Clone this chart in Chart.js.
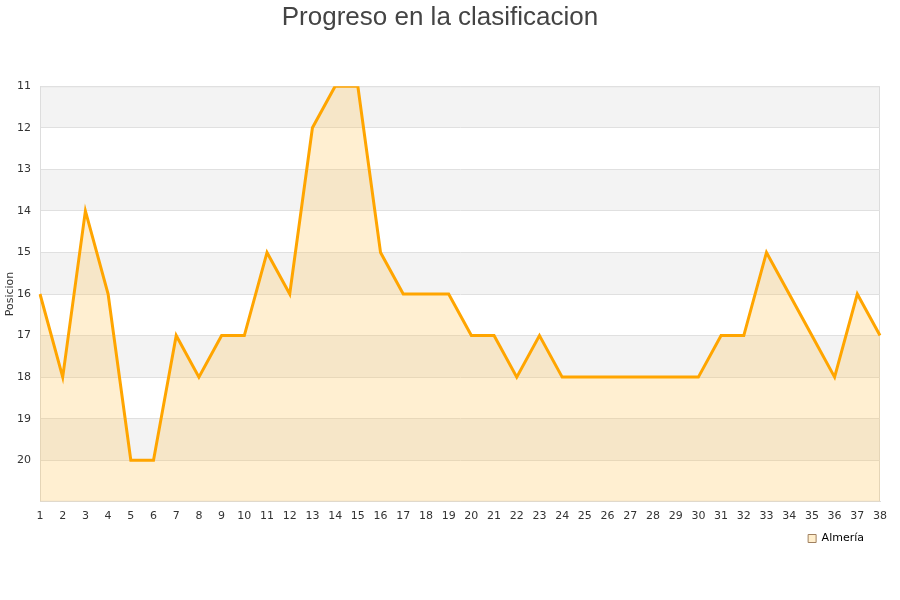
<!DOCTYPE html>
<html>
<head>
<meta charset="utf-8">
<script src="https://cdn.jsdelivr.net/npm/chart.js@4"></script>
<style>
  body { margin: 0; background: #fff; }
</style>
</head>
<body>
<canvas id="chart" width="900" height="600"></canvas>
<script>
const jornadas = ["1","2","3","4","5","6","7","8","9","10","11","12","13","14","15","16","17","18","19","20",
  "21","22","23","24","25","26","27","28","29","30","31","32","33","34","35","36","37","38"];
const posiciones = [16, 18, 14, 16, 20, 20, 17, 18, 17, 17, 15, 16, 12, 11, 11, 15, 16, 16, 16, 17,
  17, 18, 17, 18, 18, 18, 18, 18, 18, 18, 17, 17, 15, 16, 17, 18, 16, 17];
const equipo = "Almería";

// alternating grey bands behind the plot + frame around it
const bands = {
  id: "bands",
  beforeDraw(chart) {
    const { ctx, chartArea, scales } = chart;
    const y = scales.y;
    ctx.save();
    for (let v = y.min; v < y.max; v++) {
      if ((v - y.min) % 2 === 0) {
        const top = y.getPixelForValue(v);
        const bot = y.getPixelForValue(v + 1);
        ctx.fillStyle = "#f3f3f3";
        ctx.fillRect(chartArea.left, top, chartArea.right - chartArea.left, bot - top);
      }
    }
    ctx.strokeStyle = "#dcdcdc";
    ctx.lineWidth = 1;
    ctx.strokeRect(chartArea.left + 0.5, chartArea.top + 0.5,
      chartArea.right - chartArea.left - 1, chartArea.bottom - chartArea.top - 1);
    ctx.restore();
  },
  afterLayout(chart) {
    // legend sits a bit left of the plot's right edge
    chart.legend.right -= 14;
  }
};

new Chart(document.getElementById("chart"), {
  type: "line",
  data: {
    labels: jornadas,
    datasets: [{
      label: equipo,
      data: posiciones,
      borderColor: "#ffa500",
      backgroundColor: "rgba(255, 190, 70, 0.25)",
      fill: { value: 21 },
      borderWidth: 3,
      pointRadius: 0,
      tension: 0
    }]
  },
  plugins: [bands],
  options: {
    responsive: false,
    animation: false,
    layout: { padding: { left: 0, right: 20, top: 0, bottom: 46 } },
    plugins: {
      title: {
        display: true,
        text: "Progreso en la clasificacion",
        color: "#444",
        font: { family: "Liberation Sans", size: 26, weight: "normal" },
        padding: { top: 2, bottom: 53 }
      },
      legend: {
        position: "bottom",
        align: "end",
        labels: {
          boxWidth: 8,
          boxHeight: 8,
          padding: 2,
          color: "#000",
          font: { family: "DejaVu Sans", size: 11 },
          generateLabels: () => [{
            text: equipo,
            fillStyle: "#ffeecc",
            strokeStyle: "#a08060",
            lineWidth: 1
          }]
        }
      },
      tooltip: { enabled: false }
    },
    scales: {
      x: {
        offset: false,
        grid: { display: false, drawTicks: false },
        border: { color: "#ddd" },
        ticks: { color: "#333", font: { family: "DejaVu Sans", size: 11 }, maxRotation: 0, autoSkip: false, padding: 8 }
      },
      y: {
        reverse: true,
        min: 11,
        max: 21,
        afterFit: scale => { scale.width = 40; },
        grid: { color: "#e0e0e0", drawTicks: false },
        border: { color: "#ddd" },
        title: { display: true, text: "Posicion", color: "#333", font: { family: "DejaVu Sans", size: 11 }, padding: { top: 4, bottom: 0 } },
        ticks: {
          stepSize: 1,
          color: "#333",
          font: { family: "DejaVu Sans", size: 11 },
          padding: 9,
          callback: v => (v >= 21 ? "" : v)
        }
      }
    }
  }
});
</script>
</body>
</html>
